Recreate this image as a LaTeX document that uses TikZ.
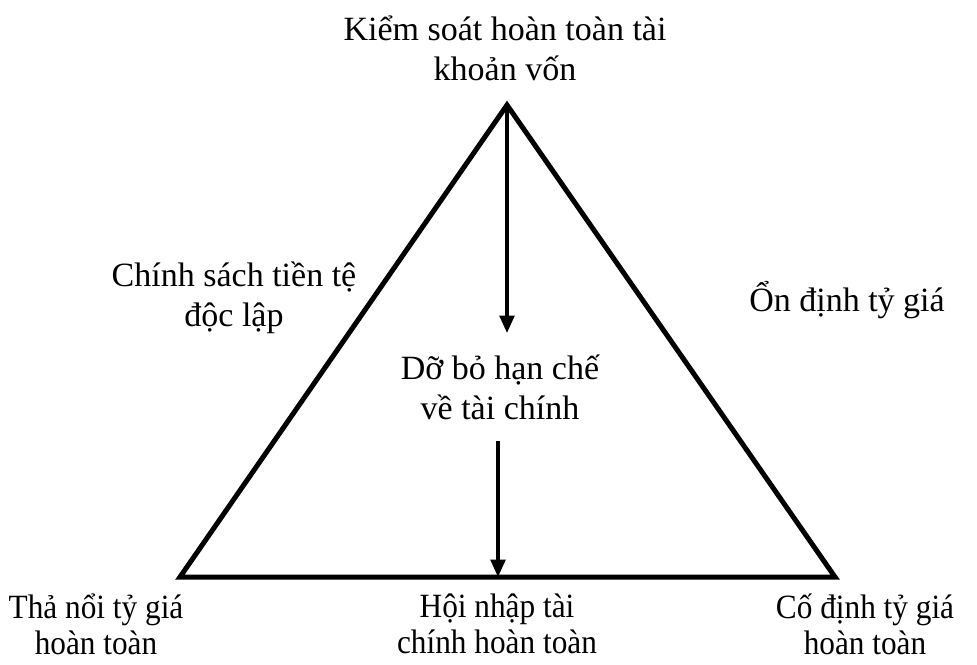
\documentclass[tikz,border=0pt]{standalone}
\usepackage{fontspec}
\setmainfont{Liberation Serif}
\usetikzlibrary{arrows.meta}

\begin{document}
\begin{tikzpicture}[x=0.75pt,y=-0.75pt,
    lbl/.style={align=center,font=\fontsize{25.5}{30}\selectfont},
    foot/.style={align=center,font=\fontsize{25.5}{27}\selectfont},
    edge/.style={line width=3.75pt,line join=miter},
    flow/.style={line width=2.4pt,-{Triangle[length=13pt,width=11pt]}}]
    \useasboundingbox (0,0) rectangle (977,664);

    % Corners of the trilemma
    \coordinate (apex) at (507,105);
    \coordinate (left) at (180,577);
    \coordinate (right) at (835,577);

    % Draw the triangle
    \draw[edge] (apex) -- (right) -- (left) -- cycle;

    % Label the corners
    \node[lbl] (capital) at (505,48) {Kiểm soát hoàn toàn tài\\khoản vốn};
    \node[foot] (float) at (96,624) {\scalebox{0.92}[1]{Thả nổi tỷ giá}\\\scalebox{0.92}[1]{hoàn toàn}};
    \node[foot] (integ) at (497,624) {\scalebox{0.92}[1]{Hội nhập tài}\\\scalebox{0.92}[1]{chính hoàn toàn}};
    \node[foot] (fixed) at (865,624) {\scalebox{0.92}[1]{Cố định tỷ giá}\\\scalebox{0.92}[1]{hoàn toàn}};

    % Label the sides
    \node[lbl] (monetary) at (234,298) {Chính sách tiền tệ\\độc lập};
    \node[lbl] (stable) at (847,300) {Ổn định tỷ giá};

    % Middle label and arrows
    \node[lbl] (liberal) at (500,387) {Dỡ bỏ hạn chế\\về tài chính};
    \coordinate (upend) at (507,333);
    \coordinate (lowstart) at (498,441);
    \coordinate (lowend) at (498,577);
    \draw[flow] (apex) -- (upend);
    \draw[flow] (lowstart) -- (lowend);
\end{tikzpicture}
\end{document}
